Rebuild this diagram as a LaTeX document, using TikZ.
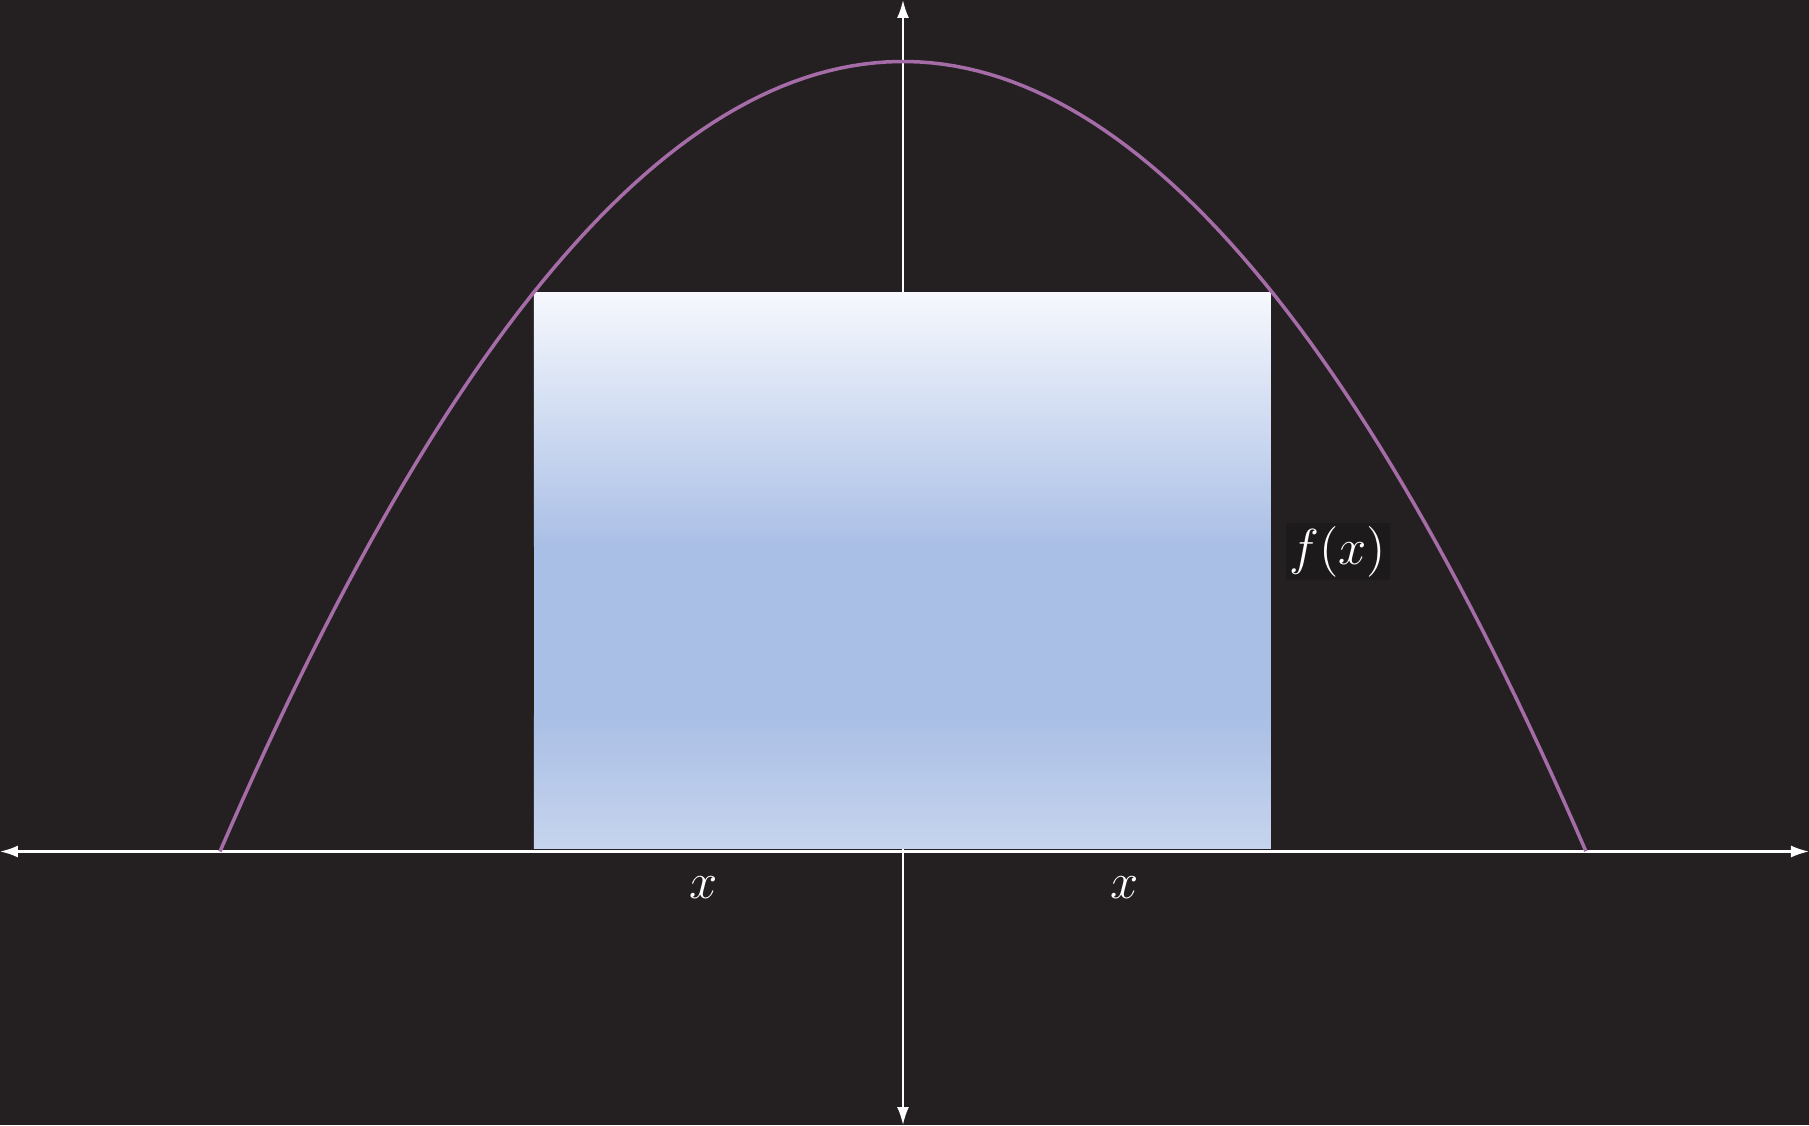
\documentclass[tikz,border=0pt]{standalone}
\usepackage{amsmath}
\usepackage{xcolor}
\usepackage{tikz}
\usetikzlibrary{arrows.meta, positioning, calc}

\definecolor{fundo}{RGB}{36,32,34}
\definecolor{curva}{RGB}{165,108,168}
\definecolor{azultopo}{RGB}{246,248,253}
\definecolor{azulmeio}{RGB}{170,191,230}
\definecolor{azulbase}{RGB}{198,212,237}

\begin{document}
\begin{tikzpicture}[
            eixo/.style={white, line width=0.6pt, {Latex[length=1.8mm,width=1.2mm]}-{Latex[length=1.8mm,width=1.2mm]}},
            parabola/.style={curva, line width=1pt},
            rotulo/.style={text=white, font=\Large}
        ]
            % Fundo escuro e margens
            \fill[fundo] (-9.03,-2.735) rectangle (9.06,8.515);
            \useasboundingbox (-9.03,-2.735) rectangle (9.06,8.515);

            % Eixos
            \coordinate (xesq) at (-9.03,0);
            \coordinate (xdir) at (9.06,0);
            \coordinate (ybaixo) at (0,-2.735);
            \coordinate (ycima) at (0,8.515);
            \draw[eixo] (xesq) -- (xdir);
            \draw[eixo] (ybaixo) -- (ycima);

            % Retângulo inscrito com degradê (por cima do eixo y)
            \shade[top color=azultopo, bottom color=azulmeio] (-3.69,3.05) rectangle (3.68,5.59);
            \fill[azulmeio] (-3.69,1.35) rectangle (3.68,3.06);
            \shade[top color=azulmeio, bottom color=azulbase] (-3.69,0.03) rectangle (3.68,1.36);

            % A parábola f(x)
            \draw[parabola, domain=-6.83:6.83, samples=120]
                plot (\x, {7.9*(1-(\x/6.83)^2)});

            % Rótulos
            \node[rotulo, fill=fundo!80!black, inner sep=1pt] (fx) at (4.35,3.0) {$f(x)$};
            \node[rotulo] (xe) at (-1.99,-0.36) {$x$};
            \node[rotulo] (xd) at (2.22,-0.36) {$x$};
        \end{tikzpicture}
\end{document}
